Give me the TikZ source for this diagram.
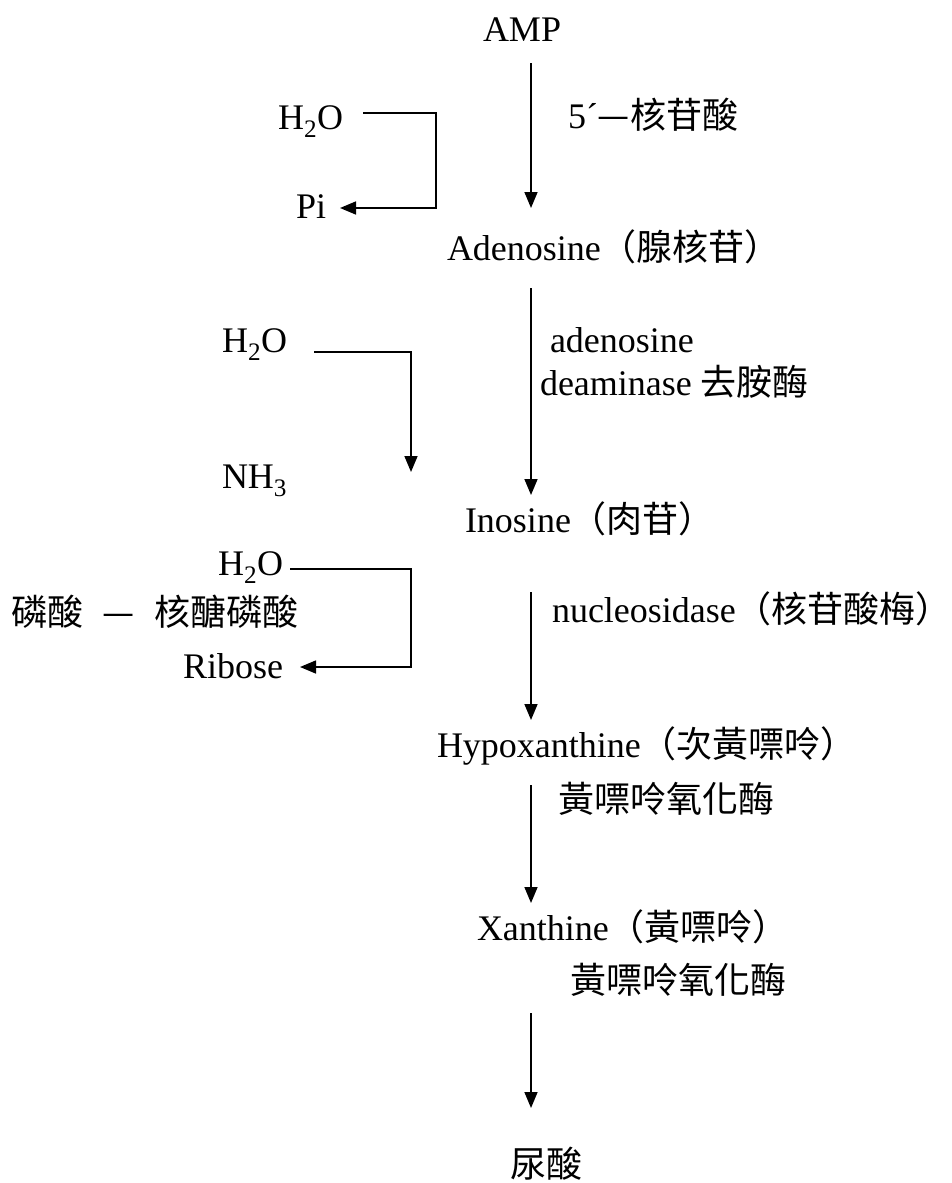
\documentclass[tikz,border=0pt]{standalone}
\usepackage{fontspec}
\setmainfont{Liberation Serif}
\newfontfamily\cjk{Noto Sans CJK TC}
\usetikzlibrary{arrows.meta}
\tikzset{
  lbl/.style={inner sep=0pt, outer sep=0pt, anchor=base west, font=\fontsize{36}{40}\selectfont},
  flow/.style={line width=1.6pt, -{Triangle[length=16pt,width=13pt]}},
  side/.style={line width=1.6pt, -{Triangle[length=16pt,width=13pt]}}
}
\begin{document}
\begin{tikzpicture}[x=1pt,y=-1pt]
\useasboundingbox (0,0) rectangle (952,1183);
% main chain
\node[lbl] (amp) at (483,41) {AMP};
\node[lbl] (e1) at (568,128) {5´{\cjk —核苷酸}};
\node[lbl] (ade) at (447,260) {Adenosine{\cjk （腺核苷）}};
\node[lbl] (e2a) at (550,352) {adenosine};
\node[lbl] (e2b) at (540,395) {deaminase {\cjk 去胺酶}};
\node[lbl] (ino) at (465,532) {Inosine{\cjk （肉苷）}};
\node[lbl] (e3) at (552,622) {nucleosidase{\cjk （核苷酸梅）}};
\node[lbl] (hyp) at (437,757) {Hypoxanthine{\cjk （次黃嘌呤）}};
\node[lbl] (e4) at (558,812) {\cjk 黃嘌呤氧化酶};
\node[lbl] (xan) at (477,940) {Xanthine{\cjk （黃嘌呤）}};
\node[lbl] (e5) at (570,993) {\cjk 黃嘌呤氧化酶};
\node[lbl] (uric) at (510,1177) {\cjk 尿酸};
% side reactants
\node[lbl] (w1) at (278,129) {H\textsubscript{2}O};
\node[lbl] (pi) at (296,218) {Pi};
\node[lbl] (w2) at (222,352) {H\textsubscript{2}O};
\node[lbl] (nh3) at (222,488) {NH\textsubscript{3}};
\node[lbl] (w3) at (218,575) {H\textsubscript{2}O};
\node[lbl] (rp) at (12,625) {\cjk 磷酸\hspace{19pt}—\hspace{19pt}核醣磷酸};
\node[lbl] (rib) at (183,678) {Ribose};
% main arrow end points
\coordinate (a1s) at (531,63);   \coordinate (a1e) at (531,208);
\coordinate (a2s) at (531,288);  \coordinate (a2e) at (531,495);
\coordinate (a3s) at (531,592);  \coordinate (a3e) at (531,720);
\coordinate (a4s) at (531,785);  \coordinate (a4e) at (531,903);
\coordinate (a5s) at (531,1013); \coordinate (a5e) at (531,1108);
\draw[flow] (a1s) -- (a1e);
\draw[flow] (a2s) -- (a2e);
\draw[flow] (a3s) -- (a3e);
\draw[flow] (a4s) -- (a4e);
\draw[flow] (a5s) -- (a5e);
% side arrows
\coordinate (s1s) at (363,113); \coordinate (s1c) at (436,113); \coordinate (s1d) at (436,208); \coordinate (s1e) at (340,208);
\draw[side] (s1s) -- (s1c) -- (s1d) -- (s1e);
\coordinate (s2s) at (314,352); \coordinate (s2c) at (411,352); \coordinate (s2e) at (411,472);
\draw[side] (s2s) -- (s2c) -- (s2e);
\coordinate (s3s) at (290,569); \coordinate (s3c) at (411,569); \coordinate (s3d) at (411,667); \coordinate (s3e) at (300,667);
\draw[side] (s3s) -- (s3c) -- (s3d) -- (s3e);
\end{tikzpicture}
\end{document}
